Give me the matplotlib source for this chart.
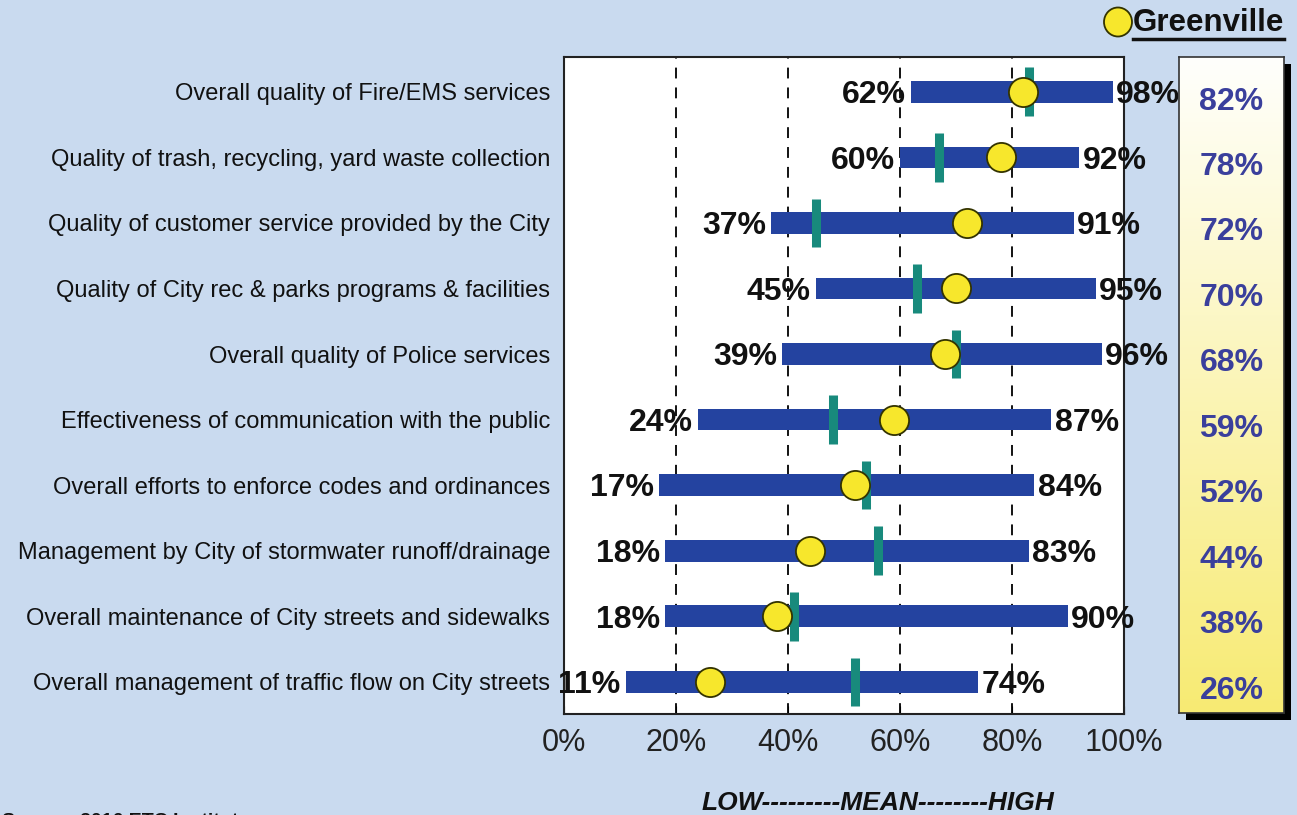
import matplotlib
matplotlib.use("Agg")
import matplotlib.pyplot as plt
import numpy as np

plt.rcParams['font.family'] = ['Liberation Sans', 'DejaVu Sans']

categories = [
    "Overall quality of Fire/EMS services",
    "Quality of trash, recycling, yard waste collection",
    "Quality of customer service provided by the City",
    "Quality of City rec & parks programs & facilities",
    "Overall quality of Police services",
    "Effectiveness of communication with the public",
    "Overall efforts to enforce codes and ordinances",
    "Management by City of stormwater runoff/drainage",
    "Overall maintenance of City streets and sidewalks",
    "Overall management of traffic flow on City streets",
]
low = [62, 60, 37, 45, 39, 24, 17, 18, 18, 11]
high = [98, 92, 91, 95, 96, 87, 84, 83, 90, 74]
mean = [83, 67, 45, 63, 70, 48, 54, 56, 41, 52]
greenville = [82, 78, 72, 70, 68, 59, 52, 44, 38, 26]
xticks = [0, 20, 40, 60, 80, 100]

W, H = 1297, 815
BG = '#c9daef'
BAR = '#2443a0'
TEAL = '#188a7c'
YEL = '#f7e72c'
VALC = '#3a3f9c'

fig = plt.figure(figsize=(W/100, H/100), dpi=100)
fig.patch.set_facecolor(BG)

def fx(px): return px / W
def fy(py): return 1 - py / H

ax = fig.add_axes([fx(564), fy(714), fx(1124) - fx(564), fy(57) - fy(714)])
ax.set_facecolor('white')
n = len(categories)
ypos = np.arange(n)[::-1]
ax.set_xlim(0, 100)
ax.set_ylim(-0.49, n - 1 + 0.53)

for g in [20, 40, 60, 80]:
    ax.axvline(g, color='black', lw=1.3, ls=(0, (6, 5)), zorder=1)

ax.barh(ypos, np.array(high) - np.array(low), left=low, height=0.33,
        color=BAR, zorder=2)
for y, m in zip(ypos, mean):
    ax.plot([m, m], [y - 0.37, y + 0.37], color=TEAL, lw=6.5,
            solid_capstyle='butt', zorder=3)
ax.scatter(greenville, ypos, s=440, color=YEL, edgecolor='#333300',
           linewidth=1.3, zorder=4)

for y, lo, hi in zip(ypos, low, high):
    ax.text(lo - 0.9, y - 0.05, f"{lo}%", ha='right', va='center', fontsize=23,
            fontweight='bold', color='#111111', zorder=5, clip_on=False)
    ax.text(hi + 0.6, y - 0.05, f"{hi}%", ha='left', va='center', fontsize=23,
            fontweight='bold', color='#111111', zorder=5, clip_on=False)

ax.set_yticks(ypos)
ax.set_yticklabels(categories, fontsize=17, color='#111111')
ax.tick_params(axis='y', length=0, pad=10)
ax.set_xticks(xticks)
ax.set_xticklabels([f"{t}%" for t in xticks], fontsize=22, color='#222222')
ax.tick_params(axis='x', length=6, direction='in', pad=10)
for s in ax.spines.values():
    s.set_color('#222222')
    s.set_linewidth(1.5)

# Greenville box with shadow
shadow = fig.add_axes([fx(1186), fy(720), fx(1291) - fx(1186), fy(64) - fy(720)])
shadow.set_facecolor('black')
shadow.set_xticks([]); shadow.set_yticks([])
for s in shadow.spines.values():
    s.set_visible(False)

bx = fig.add_axes([fx(1179), fy(713), fx(1284) - fx(1179), fy(57) - fy(713)])
grad = np.linspace(0, 1, 256).reshape(-1, 1)
c_top = np.array([1.0, 1.0, 0.99])
c_bot = np.array([0.97, 0.92, 0.45])
img = c_top[None, None, :] * (1 - grad[:, :, None]) + c_bot[None, None, :] * grad[:, :, None]
bx.imshow(img, aspect='auto', extent=[0, 1, -0.49, n - 1 + 0.53], origin='upper')
bx.set_xlim(0, 1)
bx.set_ylim(-0.49, n - 1 + 0.53)
bx.set_xticks([]); bx.set_yticks([])
for s in bx.spines.values():
    s.set_color('#333333'); s.set_linewidth(1.2)
for y, g in zip(ypos, greenville):
    bx.text(0.5, y - 0.15, f"{g}%", ha='center', va='center', fontsize=23,
            fontweight='bold', color=VALC)

# legend
fig.add_artist(matplotlib.patches.Ellipse((fx(1118), fy(22)), fx(28), 29 / H,
               transform=fig.transFigure, facecolor=YEL, edgecolor='#333300', lw=1.3))
fig.text(fx(1133), fy(23), "Greenville", ha='left', va='center', fontsize=22.5,
         fontweight='bold', color='#111111')
fig.add_artist(plt.Line2D([fx(1133), fx(1284)], [fy(39), fy(39)], color='#111111', lw=2.5,
                          transform=fig.transFigure))

fig.text(fx(878), fy(803), "LOW---------MEAN--------HIGH", ha='center', va='center',
         fontsize=19, fontweight='bold', fontstyle='italic', color='#111111')
fig.text(fx(2), fy(822), "Source: 2016 ETC Institute", ha='left', va='center',
         fontsize=14, fontweight='bold', color='#111111')

fig.savefig("out.png", dpi=100, facecolor=BG)
